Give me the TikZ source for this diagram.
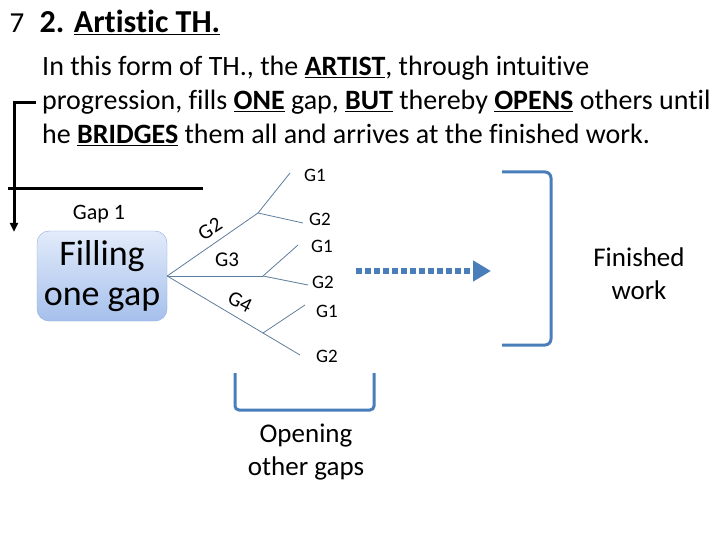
\documentclass[tikz,border=0pt]{standalone}
\usepackage{fontspec}
\setmainfont{Carlito}[Ligatures={NoCommon}]
\usepackage{xcolor}
\usetikzlibrary{arrows.meta, positioning, calc}
\definecolor{ink}{HTML}{000000}
\definecolor{twig}{HTML}{5E7D9D}
\definecolor{steel}{HTML}{4A7EBB}
\definecolor{boxtop}{HTML}{E2EBFA}
\definecolor{boxbot}{HTML}{A6C0EC}
\definecolor{boxline}{HTML}{8FAADA}
\newcommand{\ul}[1]{\underline{\textbf{#1}}}

\begin{document}
\begin{tikzpicture}[
  x=1pt, y=-1pt,
  blk/.style={line width=3pt, draw=ink},
  twigline/.style={draw=twig, line width=0.8pt},
  leaf/.style={font=\fontsize{19}{21}\selectfont, inner sep=1pt},
  branch/.style={font=\fontsize{21}{23}\selectfont, inner sep=0pt},
  fill box/.style={rectangle, rounded corners=12pt, draw=boxline, thin,
                   top color=boxtop, bottom color=boxbot,
                   minimum width=130pt, minimum height=90pt, align=center,
                   font=\fontsize{36}{40}\selectfont},
  brk/.style={draw=steel, line width=3pt, rounded corners=6pt},
  big/.style={font=\fontsize{27}{33}\selectfont, align=center},
]
\useasboundingbox (0,0) rectangle (720,540);
% ---------------- heading and text
\node[font=\fontsize{29}{30}\selectfont] (num) at (17,23) {7};
\node[anchor=west, font=\fontsize{32}{36}\selectfont\bfseries] (ttl) at (36,22) {2. \underline{Artistic TH.}};
\node[anchor=north west, align=left, inner sep=0pt,
      font=\fontsize{28}{34}\selectfont] (txt) at (42,56)
  {In this form of TH., the \ul{ARTIST}, through intuitive\\
   progression, fills \ul{ONE} gap, \ul{BUT} thereby \ul{OPENS} others until\\
   he \ul{BRIDGES} them all and arrives at the finished work.};
% ---------------- left connector
\coordinate (la) at (36,103);
\coordinate (lb) at (14,103);
\coordinate (lc) at (14,232);
\coordinate (ha) at (8,189);
\coordinate (hb) at (203,189);
\draw[blk, -{Triangle[length=9pt,width=8pt]}] (la) -- (lb) -- (lc);
\draw[blk] (ha) -- (hb);
% ---------------- gap box
\node[font=\fontsize{22}{24}\selectfont] (gap) at (99,214) {Gap 1};
\node[fill box] (fill) at (102,276) {Filling\\one gap};
% ---------------- tree
\coordinate (up) at (258,213);
\coordinate (mid) at (263,276);
\coordinate (low) at (263,333);
\draw[twigline] (fill.east) -- (up);
\draw[twigline] (fill.east) -- (mid);
\draw[twigline] (fill.east) -- (low);
\node[branch, rotate=33] (b2) at (210,229) {G2};
\node[branch] (b3) at (227,260) {G3};
\node[branch, rotate=-27] (b4) at (240,302) {G4};
\coordinate (u1) at (290,173);
\coordinate (u2) at (303,223);
\coordinate (m1) at (298,245);
\coordinate (m2) at (308,285);
\coordinate (l1) at (305,305);
\coordinate (l2) at (300,355);
\foreach \p/\q in {up/u1, up/u2, mid/m1, mid/m2, low/l1, low/l2}
  {\draw[twigline] (\p) -- (\q);}
\node[leaf] (gu1) at (315,175) {G1};
\node[leaf] (gu2) at (320,219) {G2};
\node[leaf] (gm1) at (322,246) {G1};
\node[leaf] (gm2) at (323,282) {G2};
\node[leaf] (gl1) at (327,311) {G1};
\node[leaf] (gl2) at (327,356) {G2};
% ---------------- arrow to result
\coordinate (da) at (356,271);
\coordinate (db) at (491,271);
\draw[steel, line width=6pt, dash pattern=on 6pt off 3pt,
      -{Triangle[length=18pt,width=20pt]}] (da) -- (db);
% ---------------- brackets
\coordinate (ra) at (502,172);
\coordinate (rb) at (551,172);
\coordinate (rc) at (551,345);
\coordinate (rd) at (502,345);
\draw[brk] (ra) -- (rb) -- (rc) -- (rd);
\node[big] (fin) at (639,274) {Finished\\work};
\coordinate (oa) at (235,373);
\coordinate (ob) at (235,410);
\coordinate (oc) at (374,410);
\coordinate (od) at (374,373);
\draw[brk, rounded corners=4pt] (oa) -- (ob) -- (oc) -- (od);
\node[big] (open) at (306,452) {Opening\\other gaps};
\end{tikzpicture}
\end{document}
